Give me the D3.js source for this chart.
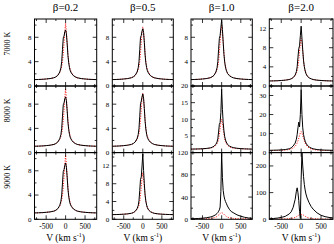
<!DOCTYPE html>
<html>
<head>
<meta charset="utf-8">
<script src="https://cdn.jsdelivr.net/npm/d3@7"></script>
<style>
body { margin: 0; background: #fff; }
text { font-family: "Liberation Serif", "DejaVu Serif", serif; fill: #000; }
</style>
</head>
<body>
<script>
// velocity grid (km/s)
var V = [-800,-700,-600,-500,-400,-300,-250,-200,-150,-120,-100,-80,-60,-40,-20,0,20,40,60,80,100,120,150,200,250,300,400,500,600,700,800];

var colTitles = ["\u03b2=0.2", "\u03b2=0.5", "\u03b2=1.0", "\u03b2=2.0"];
var rowTitles = ["7000 K", "8000 K", "9000 K"];
var xTickLabels = [-500, 0, 500];

// black = full profile, red = dotted comparison profile
var b7_02 = [1.05,1.07,1.1,1.15,1.22,1.35,1.5,1.75,2.3,3.0,4.0,6.0,7.9,8.2,8.9,9.2,8.6,7.0,5.0,3.8,3.0,2.5,2.1,1.7,1.5,1.35,1.22,1.15,1.1,1.07,1.05];
var r7_02 = [1.05,1.07,1.1,1.15,1.22,1.35,1.5,1.75,2.2,2.7,3.2,4.0,5.3,7.0,9.0,10.3,9.0,7.0,5.3,4.0,3.2,2.7,2.2,1.75,1.5,1.35,1.22,1.15,1.1,1.07,1.05];
var b7_05 = [1.05,1.07,1.1,1.15,1.22,1.35,1.5,1.75,2.3,3.0,4.0,6.0,8.0,8.3,9.0,9.4,8.8,7.2,5.1,3.8,3.0,2.5,2.1,1.7,1.5,1.35,1.22,1.15,1.1,1.07,1.05];
var r7_05 = [1.05,1.07,1.1,1.15,1.22,1.35,1.5,1.75,2.2,2.7,3.2,4.0,5.4,7.2,8.9,9.7,8.9,7.2,5.4,4.0,3.2,2.7,2.2,1.75,1.5,1.35,1.22,1.15,1.1,1.07,1.05];
var b7_10 = [1.05,1.07,1.1,1.15,1.22,1.35,1.5,1.75,2.3,3.0,4.0,6.0,7.8,8.3,9.6,10.8,9.3,7.2,5.2,3.9,3.1,2.6,2.1,1.7,1.5,1.35,1.22,1.15,1.1,1.07,1.05];
var r7_10 = [1.05,1.07,1.1,1.15,1.22,1.35,1.5,1.75,2.2,2.7,3.2,4.0,5.4,7.2,9.0,10.0,9.0,7.2,5.4,4.0,3.2,2.7,2.2,1.75,1.5,1.35,1.22,1.15,1.1,1.07,1.05];
var b7_20 = [1.05,1.07,1.1,1.15,1.22,1.35,1.5,1.75,2.3,3.0,4.0,6.0,7.8,8.4,10.5,12.5,10.0,7.5,5.3,4.0,3.2,2.6,2.1,1.7,1.5,1.35,1.22,1.15,1.1,1.07,1.05];
var r7_20 = [1.05,1.07,1.1,1.15,1.22,1.35,1.5,1.75,2.2,2.7,3.2,4.0,5.4,7.2,9.0,10.0,9.0,7.2,5.4,4.0,3.2,2.7,2.2,1.75,1.5,1.35,1.22,1.15,1.1,1.07,1.05];

var b8_02 = [1.05,1.07,1.1,1.15,1.22,1.35,1.5,1.75,2.3,3.0,4.0,6.0,7.9,8.2,8.9,9.2,8.6,7.0,5.0,3.8,3.0,2.5,2.1,1.7,1.5,1.35,1.22,1.15,1.1,1.07,1.05];
var r8_02 = [1.05,1.07,1.1,1.15,1.22,1.35,1.5,1.75,2.2,2.7,3.2,4.0,5.3,7.0,9.1,10.6,9.1,7.0,5.3,4.0,3.2,2.7,2.2,1.75,1.5,1.35,1.22,1.15,1.1,1.07,1.05];
var b8_05 = [1.05,1.07,1.1,1.15,1.22,1.35,1.5,1.75,2.3,3.0,4.0,6.0,8.1,8.5,9.2,9.7,9.0,7.3,5.2,3.9,3.0,2.5,2.1,1.7,1.5,1.35,1.22,1.15,1.1,1.07,1.05];
var r8_05 = [1.05,1.07,1.1,1.15,1.22,1.35,1.5,1.75,2.2,2.7,3.2,4.0,5.4,7.2,9.0,9.8,9.0,7.2,5.4,4.0,3.2,2.7,2.2,1.75,1.5,1.35,1.22,1.15,1.1,1.07,1.05];
var b8_10 = [1.05,1.07,1.1,1.15,1.25,1.4,1.6,1.9,2.5,3.2,4.2,6.2,8.5,9.0,12.0,19.0,13.0,9.0,6.5,4.8,3.8,3.2,2.5,2.0,1.7,1.5,1.3,1.2,1.12,1.08,1.05];
var r8_10 = [1.05,1.07,1.1,1.15,1.22,1.35,1.5,1.75,2.2,2.7,3.2,4.0,5.4,7.2,9.0,10.0,9.0,7.2,5.4,4.0,3.2,2.7,2.2,1.75,1.5,1.35,1.22,1.15,1.1,1.07,1.05];
var b8_20 = [1.2,1.25,1.3,1.4,1.6,2.0,2.5,3.5,5.0,7.0,9.5,13.0,16.0,13.5,20.0,33.0,20.0,13.0,9.5,7.5,6.0,5.0,4.0,3.0,2.4,2.0,1.6,1.4,1.3,1.25,1.2];
var r8_20 = [1.1,1.12,1.15,1.2,1.35,1.6,1.9,2.4,3.3,4.2,5.0,6.2,7.6,9.0,10.4,11.0,10.4,9.0,7.6,6.2,5.0,4.2,3.3,2.4,1.9,1.6,1.35,1.2,1.15,1.12,1.1];

var b9_02 = [1.05,1.07,1.1,1.15,1.22,1.35,1.5,1.75,2.3,3.0,4.0,6.0,7.9,8.2,8.9,9.3,8.6,7.0,5.0,3.8,3.0,2.5,2.1,1.7,1.5,1.35,1.22,1.15,1.1,1.07,1.05];
var r9_02 = [1.05,1.07,1.1,1.15,1.22,1.35,1.5,1.75,2.2,2.7,3.2,4.0,5.3,7.0,9.1,10.6,9.1,7.0,5.3,4.0,3.2,2.7,2.2,1.75,1.5,1.35,1.22,1.15,1.1,1.07,1.05];
var b9_05 = [1.05,1.07,1.1,1.15,1.22,1.35,1.5,1.8,2.4,3.1,4.2,6.5,9.0,9.5,12.0,14.7,11.0,8.0,5.5,4.1,3.2,2.6,2.1,1.7,1.5,1.35,1.22,1.15,1.1,1.07,1.05];
var r9_05 = [1.05,1.07,1.1,1.15,1.22,1.35,1.5,1.75,2.2,2.7,3.2,4.0,5.4,7.2,9.2,10.5,9.2,7.2,5.4,4.0,3.2,2.7,2.2,1.75,1.5,1.35,1.22,1.15,1.1,1.07,1.05];
var b9_10 = [1.0,1.2,1.5,2.0,2.8,4.0,5.0,6.5,8.5,10.5,12.0,14.5,17.0,22.0,50.0,120.0,75.0,52.0,42.0,36.0,32.0,29.0,24.0,18.0,14.0,12.0,8.0,5.5,3.6,2.4,1.8];
var r9_10 = [1.0,1.0,1.05,1.1,1.3,1.7,2.1,2.8,4.0,5.2,6.3,7.6,9.0,10.3,11.3,11.8,11.3,10.3,9.0,7.6,6.3,5.2,4.0,2.8,2.1,1.7,1.3,1.1,1.05,1.0,1.0];
var b9_20 = [2.0,3.0,4.5,7.0,11.0,20.0,28.0,45.0,75.0,105.0,118.0,100.0,70.0,30.0,3.0,150.0,250.0,200.0,160.0,130.0,110.0,95.0,80.0,62.0,48.0,38.0,24.0,15.0,10.0,7.0,5.0];
var r9_20 = [1.0,1.0,1.1,1.2,1.6,2.4,3.2,4.6,7.0,9.5,11.5,13.5,15.5,17.0,18.0,18.5,18.0,17.0,15.5,13.5,11.5,9.5,7.0,4.6,3.2,2.4,1.6,1.2,1.1,1.0,1.0];

var blackSeries = [[b7_02,b7_05,b7_10,b7_20],[b8_02,b8_05,b8_10,b8_20],[b9_02,b9_05,b9_10,b9_20]];
var redSeries = [[r7_02,r7_05,r7_10,r7_20],[r8_02,r8_05,r8_10,r8_20],[r9_02,r9_05,r9_10,r9_20]];

// y axis ranges: [max, major step, minor step]
var yAxes = [
  [[11,4,2],[11,4,2],[11,4,2],[14,4,2]],
  [[11,4,2],[11,4,2],[20,5,2.5],[35,10,5]],
  [[11,4,2],[15,4,2],[120,40,20],[250,100,50]]
];
// y tick labels shown for each panel
var yLabels = [
  [[0,4,8],[0,4,8],[4,8],[0,4,8,12]],
  [[0,4,8],[0,4,8],[5,10,15,20],[0,10,20,30]],
  [[0,4,8],[0,4,8,12],[0,40,80,120],[0,100,200]]
];

var colX = [34.5, 112.3, 191, 269.3];
var colW = [62.2, 61, 61.3, 63.7];
var rowY = [19, 86, 152.6];
var rowH = [67, 66.6, 66.7];

var svg = d3.select("body").append("svg")
    .attr("width", 334)
    .attr("height", 244);

var xMinor = d3.range(-750, 751, 250);

for (var r = 0; r < 3; r++) {
  for (var c = 0; c < 4; c++) {
    var x0 = colX[c], y0 = rowY[r], w = colW[c], h = rowH[r];
    var ax = yAxes[r][c];
    var x = d3.scaleLinear().domain([-800, 800]).range([x0, x0 + w]);
    var y = d3.scaleLinear().domain([0, ax[0]]).range([y0 + h, y0]);

    var id = "clip" + r + c;
    svg.append("clipPath").attr("id", id)
      .append("rect").attr("x", x0).attr("y", y0).attr("width", w).attr("height", h);

    var g = svg.append("g");
    var line = d3.line().x(function(d, i) { return x(V[i]); }).y(function(d) { return y(d); });

    g.append("path")
      .attr("d", line(redSeries[r][c]))
      .attr("clip-path", "url(#" + id + ")")
      .attr("fill", "none")
      .attr("stroke", "#ff0000")
      .attr("stroke-width", 1)
      .attr("stroke-dasharray", "1,1.5");

    g.append("path")
      .attr("d", line(blackSeries[r][c]))
      .attr("clip-path", "url(#" + id + ")")
      .attr("fill", "none")
      .attr("stroke", "#000")
      .attr("stroke-width", 1);

    // inward ticks on all four sides
    var yt = d3.range(0, ax[0] + 1e-6, ax[2]);
    yt.forEach(function(t) {
      var len = Math.abs(t / ax[1] - Math.round(t / ax[1])) < 1e-6 ? 4 : 2;
      g.append("line").attr("x1", x0).attr("x2", x0 + len).attr("y1", y(t)).attr("y2", y(t))
        .attr("stroke", "#000").attr("stroke-width", 0.8);
      g.append("line").attr("x1", x0 + w).attr("x2", x0 + w - len).attr("y1", y(t)).attr("y2", y(t))
        .attr("stroke", "#000").attr("stroke-width", 0.8);
    });
    xMinor.forEach(function(t) {
      var len = t % 500 === 0 ? 4 : 2;
      g.append("line").attr("x1", x(t)).attr("x2", x(t)).attr("y1", y0 + h).attr("y2", y0 + h - len)
        .attr("stroke", "#000").attr("stroke-width", 0.8);
      g.append("line").attr("x1", x(t)).attr("x2", x(t)).attr("y1", y0).attr("y2", y0 + len)
        .attr("stroke", "#000").attr("stroke-width", 0.8);
    });

    g.append("rect").attr("x", x0).attr("y", y0).attr("width", w).attr("height", h)
      .attr("fill", "none").attr("stroke", "#000").attr("stroke-width", 1);

    yLabels[r][c].forEach(function(t) {
      g.append("text").attr("x", x0 - 3).attr("y", y(t)).attr("dy", "0.35em")
        .attr("text-anchor", "end").style("font-size", "7px").text(t);
    });

    if (r === 2) {
      xTickLabels.forEach(function(t) {
        g.append("text").attr("x", x(t)).attr("y", 228.5)
          .attr("text-anchor", "middle").style("font-size", "7.5px").text(t);
      });
      var xt = g.append("text").attr("x", x0 + w / 2).attr("y", 240.5)
        .attr("text-anchor", "middle").style("font-size", "9.5px");
      xt.append("tspan").text("V (km s");
      xt.append("tspan").attr("dy", -3.5).style("font-size", "6px").text("-1");
      xt.append("tspan").attr("dy", 3.5).text(")");
    }
    if (r === 0) {
      svg.append("text").attr("x", x0 + w / 2).attr("y", 11)
        .attr("text-anchor", "middle").style("font-size", "11px").text(colTitles[c]);
    }
  }
  svg.append("text")
    .attr("transform", "translate(10," + (rowY[r] + rowH[r] / 2 - 9) + ") rotate(-90)")
    .attr("text-anchor", "middle").style("font-size", "8px").text(rowTitles[r]);
}
</script>
</body>
</html>
